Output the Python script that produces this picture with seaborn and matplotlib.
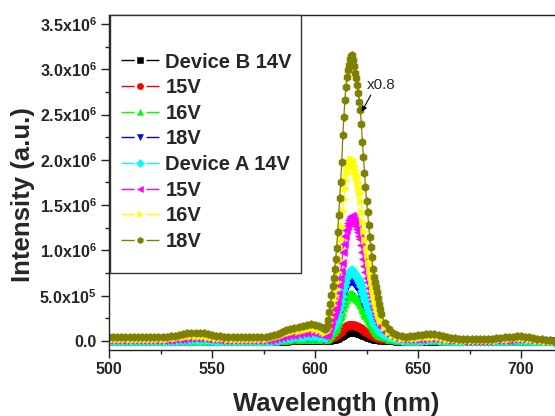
import numpy as np
import pandas as pd
import matplotlib
matplotlib.use("Agg")
import matplotlib.pyplot as plt
from matplotlib.lines import Line2D
from matplotlib.patches import Rectangle
from matplotlib.ticker import MultipleLocator, FuncFormatter
import seaborn as sns

# ---------------- data (intensity in units of 1e6 a.u.) ----------------
wavelength = np.concatenate([np.arange(500, 605, 2),
                             np.arange(605, 632.01, 0.5),
                             np.arange(634, 717, 2)])

labels = ["Device B 14V", "15V", "16V", "18V", "Device A 14V", "15V", "16V", "18V"]

b14 = [-.004,-.004,-.004,-.004,-.004,-.004,-.004,-.004,-.004,-.004,-.004,-.004,-.004,-.004,
       -.004,-.004,-.003,-.003,-.002,-.001,-.001,-.001,-.001,-.001,-.002,-.003,-.003,-.004,-.004,-.004,-.004,
       -.004,-.004,-.004,-.004,-.004,-.004,-.004,-.004,
       -.004,-.002,.000,.002,.003,.005,.006,.007,.008,.009,.010,.010,.008,.006,
       .008,.009,.010,.011,.014,.017,.020,.024,.027,.030,.033,.037,.043,.050,.056,.062,.069,.078,.085,.091,
       .096,.100,.103,.105,.107,.108,.108,.106,.104,.102,.100,.098,.095,.092,.089,.084,.078,.072,.067,.062,
       .057,.053,.048,.044,.041,.037,.033,.030,.027,.025,.022,.020,.018,.016,.015,
       .013,.009,.006,.003,.001,.000,.000,.000,.001,.001,.002,.002,.002,.001,.000,-.002,-.003,-.004,
       -.004,-.004,-.004,-.004,-.004,-.004,-.004,-.004,-.004,
       -.004,-.004,-.003,-.003,-.002,-.002,-.002,-.002,-.003,-.003,-.004,-.005,-.005,-.006,-.006]

b15 = [-.003,-.003,-.003,-.003,-.003,-.003,-.003,-.003,-.003,-.003,-.003,-.003,-.003,-.003,
       -.003,-.003,-.002,-.001,.000,.000,.001,.001,.001,.000,.000,-.001,-.002,-.003,-.003,-.003,-.003,
       -.003,-.003,-.003,-.003,-.003,-.003,-.003,-.003,
       -.002,.000,.003,.006,.008,.011,.012,.014,.016,.018,.019,.018,.016,.012,
       .014,.016,.017,.020,.025,.030,.035,.041,.046,.051,.056,.063,.073,.084,.094,.104,.116,.131,.142,.152,
       .160,.167,.171,.174,.178,.180,.180,.177,.173,.169,.166,.163,.158,.153,.148,.140,.130,.121,.112,.103,
       .095,.088,.081,.074,.069,.063,.056,.051,.046,.042,.038,.035,.032,.029,.027,
       .022,.015,.010,.006,.003,.001,.001,.002,.003,.004,.005,.005,.005,.003,.001,-.001,-.002,-.003,
       -.003,-.003,-.003,-.003,-.003,-.003,-.003,-.003,-.003,
       -.003,-.003,-.002,-.001,.000,.001,.001,.000,-.001,-.002,-.003,-.004,-.005,-.005,-.006]

b16 = [-.003,-.003,-.003,-.003,-.003,-.003,-.003,-.003,-.003,-.003,-.003,-.003,-.003,-.003,
       -.003,-.002,-.001,.000,.001,.002,.003,.003,.003,.002,.001,.000,-.001,-.002,-.003,-.003,-.003,
       -.003,-.003,-.003,-.003,-.003,-.003,-.003,-.003,
       -.002,.001,.005,.009,.013,.016,.018,.020,.023,.026,.027,.026,.023,.018,
       .020,.023,.028,.035,.050,.065,.080,.100,.115,.130,.145,.165,.195,.230,.260,.290,.325,.370,.405,.435,
       .460,.480,.493,.503,.513,.519,.520,.510,.500,.488,.478,.468,.453,.438,.423,.400,.368,.340,.313,.288,
       .263,.243,.220,.200,.183,.165,.145,.130,.115,.103,.090,.080,.070,.063,.055,
       .040,.026,.016,.010,.005,.003,.002,.003,.004,.005,.007,.008,.007,.005,.003,.000,-.002,-.003,
       -.003,-.003,-.003,-.003,-.003,-.003,-.003,-.003,-.003,
       -.003,-.002,-.001,.000,.001,.002,.002,.001,.000,-.001,-.003,-.004,-.005,-.006,-.006]

b18 = [-.003,-.003,-.003,-.003,-.003,-.003,-.003,-.003,-.003,-.003,-.003,-.003,-.003,-.003,
       -.003,-.002,.000,.001,.003,.004,.005,.005,.005,.004,.003,.001,.000,-.002,-.002,-.003,-.003,
       -.003,-.003,-.003,-.003,-.003,-.003,-.003,-.003,
       -.001,.002,.007,.013,.018,.022,.025,.028,.032,.035,.037,.036,.031,.025,
       .028,.033,.039,.049,.068,.087,.106,.131,.150,.169,.188,.213,.250,.295,.332,.370,.414,.471,.515,.553,
       .584,.610,.625,.638,.651,.658,.660,.647,.635,.619,.606,.594,.575,.556,.537,.509,.468,.433,.399,.367,
       .336,.310,.282,.257,.235,.213,.188,.169,.150,.134,.118,.106,.093,.084,.074,
       .050,.033,.021,.013,.007,.004,.003,.004,.005,.007,.009,.010,.009,.007,.004,.001,-.001,-.002,
       -.003,-.003,-.003,-.003,-.003,-.003,-.003,-.003,-.003,
       -.002,-.001,.001,.002,.003,.004,.004,.003,.002,.000,-.002,-.004,-.005,-.006,-.007]

a14 = [.001,.000,.000,-.001,.000,.000,.001,.000,.000,-.001,.000,.000,.000,.001,
       .001,.002,.004,.006,.008,.010,.012,.012,.012,.010,.008,.006,.004,.002,.001,.000,.000,
       .000,.000,-.001,.000,.000,.000,.000,.001,
       .002,.007,.014,.022,.029,.034,.039,.043,.048,.052,.055,.053,.047,.039,
       .040,.044,.051,.062,.084,.107,.129,.158,.181,.203,.225,.255,.299,.351,.395,.440,.491,.558,.610,.654,
       .691,.721,.739,.754,.769,.778,.780,.765,.750,.732,.717,.702,.680,.658,.636,.602,.554,.514,.473,.436,
       .399,.369,.336,.306,.281,.255,.225,.203,.181,.162,.144,.129,.114,.103,.092,
       .065,.043,.028,.018,.011,.008,.008,.009,.011,.013,.015,.016,.016,.013,.009,.005,.002,.000,
       -.001,-.001,-.001,-.001,-.001,-.001,-.001,-.001,-.001,
       .000,.002,.004,.006,.008,.009,.009,.008,.006,.003,.000,-.003,-.005,-.006,-.007]

a15 = [.011,.010,.010,.009,.010,.010,.011,.010,.010,.009,.010,.010,.010,.011,
       .011,.013,.017,.021,.025,.029,.031,.032,.032,.029,.025,.021,.017,.014,.012,.011,.010,
       .010,.010,.009,.010,.010,.010,.010,.011,
       .013,.020,.031,.044,.054,.063,.070,.076,.084,.091,.095,.092,.082,.070,
       .065,.067,.080,.100,.139,.179,.218,.271,.311,.350,.390,.443,.522,.614,.694,.773,.865,.984,1.076,1.156,
       1.222,1.274,1.307,1.334,1.360,1.376,1.380,1.354,1.327,1.294,1.268,1.241,1.202,1.162,1.123,1.063,.977,.905,.832,.766,
       .700,.647,.588,.535,.489,.443,.390,.350,.311,.278,.245,.218,.192,.172,.152,
       .100,.066,.043,.029,.021,.018,.018,.020,.023,.027,.030,.032,.031,.027,.021,.015,.010,.007,
       .005,.004,.003,.003,.003,.003,.003,.004,.005,
       .007,.009,.012,.015,.017,.018,.018,.017,.014,.010,.006,.002,-.001,-.003,-.004]

a16 = [.026,.025,.025,.024,.025,.025,.026,.025,.025,.024,.025,.025,.025,.026,
       .027,.030,.034,.040,.046,.051,.054,.055,.054,.051,.046,.040,.035,.030,.028,.026,.025,
       .025,.025,.024,.025,.025,.025,.025,.026,
       .030,.039,.054,.071,.085,.096,.106,.115,.125,.134,.140,.137,.123,.106,
       .095,.100,.119,.148,.205,.263,.320,.397,.455,.512,.570,.647,.762,.896,1.012,1.127,1.261,1.434,1.568,1.684,
       1.780,1.856,1.904,1.943,1.981,2.004,2.010,1.972,1.933,1.885,1.847,1.808,1.751,1.693,1.636,1.549,1.424,1.319,1.213,1.117,
       1.021,.944,.858,.781,.714,.647,.570,.512,.455,.407,.359,.320,.282,.253,.224,
       .150,.100,.068,.047,.036,.031,.031,.034,.038,.043,.047,.049,.048,.043,.035,.027,.020,.016,
       .013,.012,.011,.010,.010,.010,.011,.012,.013,
       .015,.018,.022,.026,.029,.031,.031,.029,.025,.019,.013,.007,.003,.000,-.002]

a18 = [.046,.045,.045,.046,.045,.044,.045,.045,.046,.045,.045,.045,.046,.046,
       .047,.052,.059,.068,.077,.084,.089,.090,.089,.084,.077,.068,.059,.053,.049,.047,.045,
       .045,.045,.044,.045,.045,.045,.045,.046,
       .051,.062,.080,.100,.118,.132,.143,.154,.167,.178,.185,.181,.164,.143,
       .13,.14,.17,.23,.32,.41,.51,.61,.70,.80,.90,1.03,1.20,1.39,1.58,1.76,1.98,2.27,2.47,2.66,
       2.81,2.91,2.99,3.05,3.11,3.15,3.16,3.10,3.04,2.96,2.90,2.83,2.74,2.64,2.55,2.40,2.20,2.03,1.86,1.70,
       1.55,1.42,1.28,1.15,1.04,.93,.80,.71,.65,.60,.54,.47,.41,.35,.30,
       .195,.130,.090,.062,.050,.048,.050,.055,.061,.067,.072,.075,.073,.066,.055,.045,.036,.030,
       .025,.024,.023,.022,.022,.022,.023,.024,.026,
       .029,.033,.039,.044,.048,.050,.050,.047,.041,.033,.024,.016,.010,.006,.004]

series = [b14, b15, b16, b18, a14, a15, a16, a18]
UNIT = 1e6

# ---------------- style ----------------
colors = ["#000000", "#FF0000", "#00FF00", "#0000FF", "#00FFFF", "#FF00FF", "#FFFF00", "#808000"]
markers = ["s", "o", "^", "v", "D", "<", ">", "h"]
msizes = [5.2, 5.6, 6.0, 6.0, 5.2, 6.0, 6.0, 5.8]

sns.set_theme(style="ticks")
plt.rcParams["font.family"] = ["Liberation Sans", "DejaVu Sans"]
plt.rcParams["mathtext.fontset"] = "custom"
plt.rcParams["mathtext.bf"] = "Liberation Sans:bold"
plt.rcParams["mathtext.rm"] = "Liberation Sans:bold"
plt.rcParams["mathtext.it"] = "Liberation Sans:bold"
plt.rcParams["lines.scale_dashes"] = False

fig = plt.figure(figsize=(5.55, 4.16), dpi=100)
ax = fig.add_axes([109/555, 1 - 350/416, 446/555, 335/416])

for vals, c, m, ms in zip(series, colors, markers, msizes):
    df = pd.DataFrame({"Wavelength": wavelength, "Intensity": np.asarray(vals) * UNIT})
    sns.lineplot(data=df, x="Wavelength", y="Intensity", ax=ax, color=c, lw=0.9,
                 marker=m, markersize=ms, markeredgewidth=0.4, markeredgecolor=c,
                 estimator=None, sort=False, legend=False)

ax.set_xlim(500, 716.5)
ax.set_ylim(-0.1e6, 3.6e6)
ax.xaxis.set_major_locator(MultipleLocator(50))
ax.xaxis.set_minor_locator(MultipleLocator(25))
ax.yaxis.set_major_locator(MultipleLocator(0.5e6))
ax.yaxis.set_minor_locator(MultipleLocator(0.25e6))


def yfmt(v, pos):
    if abs(v) < 1:
        return "0.0"
    e = int(np.floor(np.log10(abs(v)) + 1e-9))
    return r"$\mathbf{%.1fx10^{%d}}$" % (v / 10**e, e)


ax.yaxis.set_major_formatter(FuncFormatter(yfmt))
ax.tick_params(axis="both", which="major", direction="out", length=6, width=1,
               color="#222222", labelsize=11.5, pad=3)
ax.tick_params(axis="both", which="minor", direction="out", length=3, width=1, color="#222222")
ax.tick_params(axis="x", which="both", bottom=True, top=False)
ax.tick_params(axis="y", which="both", left=True, right=False)
for lab in ax.get_xticklabels() + ax.get_yticklabels():
    lab.set_fontweight("bold")

for s in ["left", "bottom", "top"]:
    ax.spines[s].set_color("#222222")
    ax.spines[s].set_linewidth(1)
ax.spines["right"].set_visible(False)

ax.set_xlabel("Wavelength (nm)", fontsize=18.5, fontweight="bold")
ax.set_ylabel("Intensity (a.u.)", fontsize=18.5, fontweight="bold")
ax.xaxis.set_label_coords(0.509, -0.125)
ax.yaxis.set_label_coords(-0.165, 0.463)

# annotation
ax.annotate("x0.8", xy=(622.6, 2.53e6), xytext=(625.2, 2.83e6), ha="left", va="center",
            fontsize=11, fontweight="normal",
            arrowprops=dict(arrowstyle="-|>", color="black", lw=0.8, mutation_scale=8,
                            shrinkA=0, shrinkB=0, relpos=(0.2, 0.0)))

# legend frame + legend
ax.add_patch(Rectangle((0.002, 0.2299), 0.4285, 0.7701, transform=ax.transAxes,
                       facecolor="white", edgecolor="#333333", lw=1, zorder=4.5, clip_on=False))
handles = [Line2D([], [], color=c, marker=m, markersize=4.5, lw=1, dashes=(9.5, 8.5),
                  markeredgewidth=0.4, markeredgecolor=c)
           for c, m in zip(colors, markers)]
leg = ax.legend(handles, labels, loc="upper left", bbox_to_anchor=(0.0269, 0.888),
                frameon=False, borderpad=0, borderaxespad=0, handlelength=1.9,
                handletextpad=0.3, labelspacing=0.33,
                prop={"family": "Liberation Sans", "weight": "bold", "size": 14.5})
leg.set_zorder(6)

fig.savefig("out.png", dpi=100)
